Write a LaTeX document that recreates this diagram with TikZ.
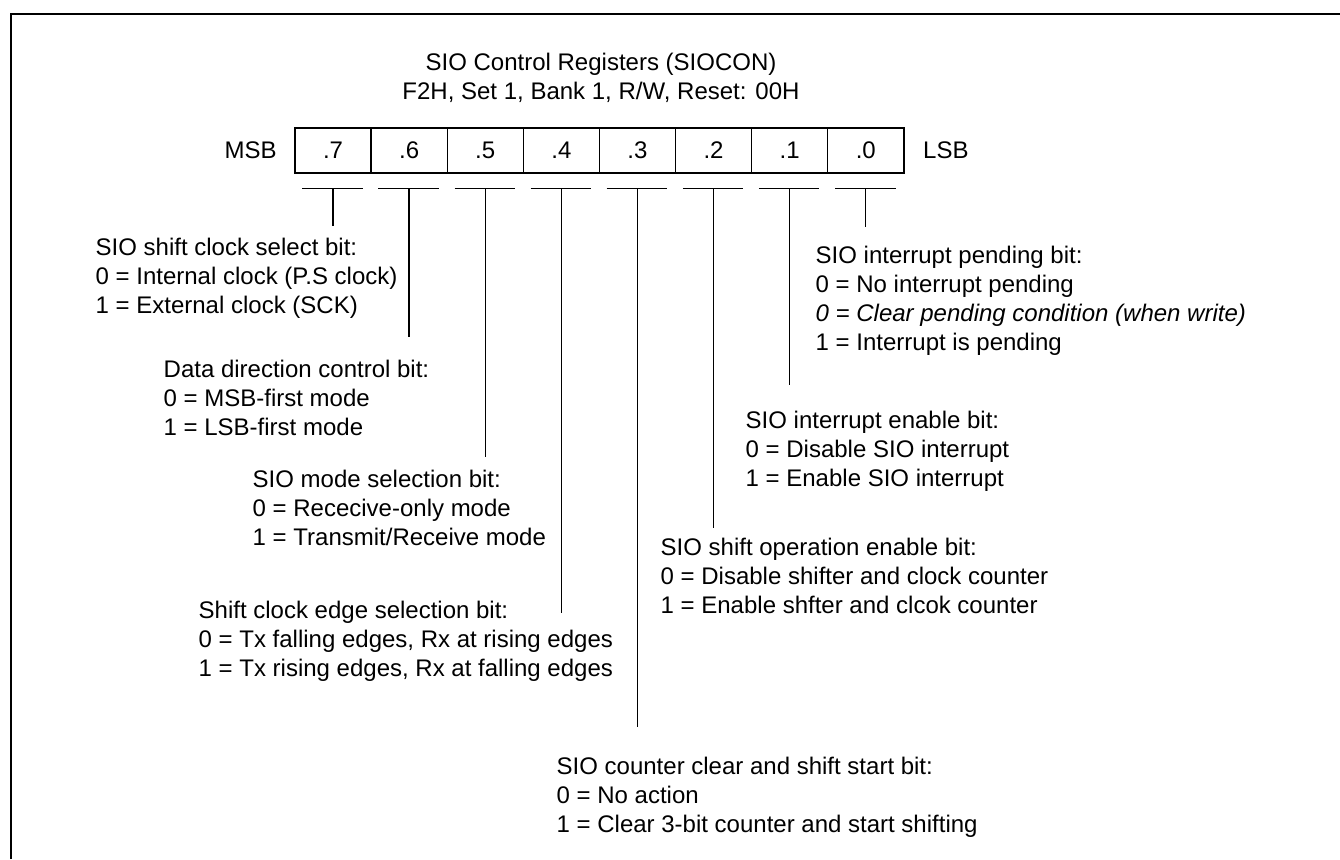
\documentclass[tikz,border=0pt]{standalone}
\usepackage{fontspec}
\setmainfont{Liberation Sans}
\usetikzlibrary{positioning}

\begin{document}
\begin{tikzpicture}[x=1pt, y=-1pt, line width=1.4pt,
    every node/.style={font=\fontsize{24}{29}\selectfont, inner sep=0pt},
    bitcell/.style={draw, minimum width=76.1pt, minimum height=45pt},
    desc/.style={anchor=north west, align=left}]
  \useasboundingbox (0,0) rectangle (1340,859);
  % frame
  \draw[line width=2.4pt] (11,859) -- (11,14) -- (1340,14);
  % title
  \node[align=center] (title) at (601,78) {SIO Control Registers (SIOCON)\\F2H, Set 1, Bank 1, R/W, Reset: 00H};
  % register cells
  \foreach \i in {7,...,0}
    \node[bitcell] (b\i) at ({333.05+76.1*(7-\i)},150.5) {.\i};
  \node[left=17pt of b7] (msb) {MSB};
  \node[right=18pt of b0] (lsb) {LSB};
  % bit leaders
  \foreach \i/\len in {7/226,6/337,5/457,4/613,3/727,2/528,1/385,0/227} {
    \draw ([xshift=8pt,yshift=-15pt]b\i.south west) -- ([xshift=-9pt,yshift=-15pt]b\i.south east);
    \coordinate (e\i) at (b\i.center |- 0,\len);
    \draw ([yshift=-15pt]b\i.south) -- (e\i);
  }
  % bit descriptions
  \node[desc] (d7) at (95,237) {SIO shift clock select bit:\\0 = Internal clock (P.S clock)\\1 = External clock (SCK)};
  \node[desc] (d6) at (163,359) {Data direction control bit:\\0 = MSB-first mode\\1 = LSB-first mode};
  \node[desc] (d5) at (252,469) {SIO mode selection bit:\\0 = Rececive-only mode\\1 = Transmit/Receive mode};
  \node[desc] (d4) at (198,600) {Shift clock edge selection bit:\\0 = Tx falling edges, Rx at rising edges\\1 = Tx rising edges, Rx at falling edges};
  \node[desc] (d3) at (556,756) {SIO counter clear and shift start bit:\\0 = No action\\1 = Clear 3-bit counter and start shifting};
  \node[desc] (d2) at (660,537) {SIO shift operation enable bit:\\0 = Disable shifter and clock counter\\1 = Enable shfter and clcok counter};
  \node[desc] (d1) at (745,410) {SIO interrupt enable bit:\\0 = Disable SIO interrupt\\1 = Enable SIO interrupt};
  \node[desc] (d0) at (815,245) {SIO interrupt pending bit:\\0 = No interrupt pending\\\textit{0 = Clear pending condition (when write)}\\1 = Interrupt is pending};
\end{tikzpicture}
\end{document}
